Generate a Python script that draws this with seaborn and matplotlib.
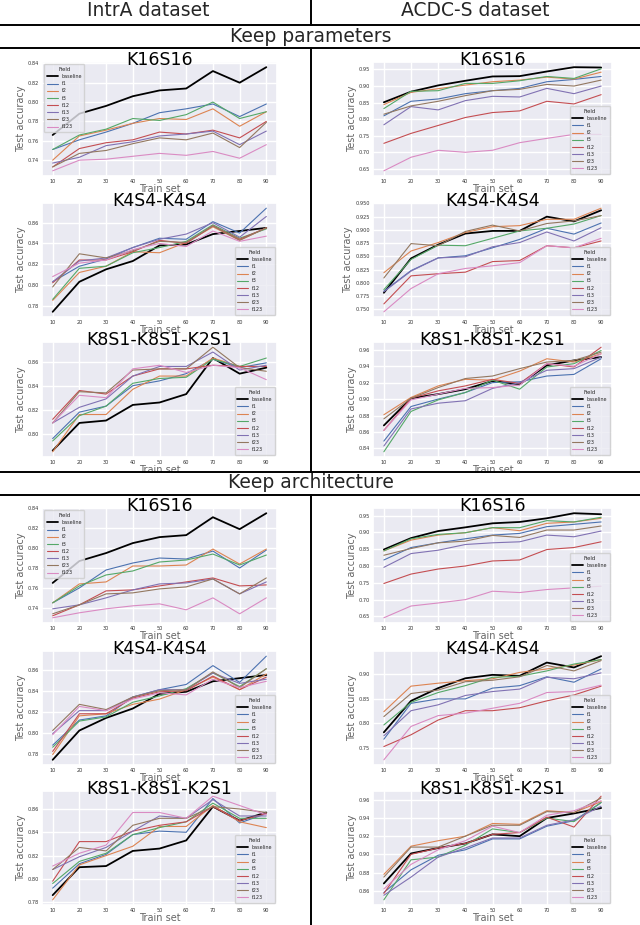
import numpy as np
import pandas as pd
import matplotlib
matplotlib.use("Agg")
import matplotlib.pyplot as plt
from matplotlib.lines import Line2D
import seaborn as sns

TRAIN_SET = [10, 20, 30, 40, 50, 60, 70, 80, 90]
FIELDS = ["baseline", "f1", "f2", "f3", "f12", "f13", "f23", "f123"]
DATASETS = ["IntrA dataset", "ACDC-S dataset"]
SECTIONS = ["Keep parameters", "Keep architecture"]
MODELS = ["K16S16", "K4S4-K4S4", "K8S1-K8S1-K2S1"]

# rows follow FIELDS order
INTRA_PARAM_K16S16 = [
    [0.766, 0.788, 0.796, 0.806, 0.812, 0.814, 0.832, 0.820, 0.836],
    [0.751, 0.761, 0.769, 0.778, 0.789, 0.793, 0.798, 0.785, 0.798],
    [0.740, 0.765, 0.771, 0.778, 0.783, 0.782, 0.793, 0.775, 0.790],
    [0.751, 0.766, 0.772, 0.783, 0.781, 0.787, 0.800, 0.783, 0.790],
    [0.733, 0.752, 0.758, 0.761, 0.769, 0.767, 0.771, 0.763, 0.780],
    [0.737, 0.743, 0.755, 0.759, 0.765, 0.767, 0.770, 0.756, 0.770],
    [0.733, 0.747, 0.750, 0.757, 0.763, 0.761, 0.768, 0.753, 0.779],
    [0.729, 0.740, 0.741, 0.744, 0.747, 0.745, 0.749, 0.742, 0.756],
]
INTRA_PARAM_K4S4 = [
    [0.774, 0.803, 0.815, 0.823, 0.838, 0.839, 0.849, 0.852, 0.855],
    [0.803, 0.818, 0.825, 0.836, 0.845, 0.844, 0.861, 0.850, 0.874],
    [0.785, 0.812, 0.818, 0.832, 0.831, 0.841, 0.856, 0.843, 0.855],
    [0.786, 0.816, 0.818, 0.831, 0.836, 0.842, 0.858, 0.845, 0.854],
    [0.802, 0.824, 0.824, 0.832, 0.843, 0.840, 0.857, 0.844, 0.855],
    [0.803, 0.823, 0.826, 0.836, 0.844, 0.849, 0.860, 0.846, 0.866],
    [0.798, 0.830, 0.826, 0.833, 0.842, 0.841, 0.857, 0.843, 0.855],
    [0.808, 0.821, 0.824, 0.834, 0.840, 0.837, 0.852, 0.842, 0.847],
]
INTRA_PARAM_K8S1 = [
    [0.786, 0.809, 0.811, 0.824, 0.826, 0.833, 0.863, 0.850, 0.855],
    [0.796, 0.818, 0.823, 0.840, 0.844, 0.850, 0.862, 0.855, 0.859],
    [0.785, 0.816, 0.816, 0.837, 0.848, 0.848, 0.863, 0.856, 0.856],
    [0.794, 0.815, 0.823, 0.842, 0.846, 0.847, 0.862, 0.856, 0.863],
    [0.812, 0.836, 0.833, 0.848, 0.854, 0.854, 0.857, 0.856, 0.856],
    [0.809, 0.822, 0.829, 0.848, 0.856, 0.856, 0.868, 0.853, 0.857],
    [0.809, 0.835, 0.834, 0.853, 0.854, 0.854, 0.872, 0.855, 0.852],
    [0.809, 0.832, 0.830, 0.854, 0.857, 0.851, 0.857, 0.855, 0.845],
]
ACDC_PARAM_K16S16 = [
    [0.851, 0.883, 0.902, 0.916, 0.929, 0.930, 0.944, 0.957, 0.956],
    [0.810, 0.854, 0.861, 0.877, 0.886, 0.893, 0.913, 0.920, 0.929],
    [0.844, 0.881, 0.892, 0.903, 0.913, 0.918, 0.927, 0.921, 0.942],
    [0.832, 0.884, 0.886, 0.908, 0.908, 0.916, 0.929, 0.923, 0.952],
    [0.727, 0.757, 0.781, 0.805, 0.820, 0.825, 0.854, 0.846, 0.874],
    [0.783, 0.838, 0.828, 0.856, 0.869, 0.867, 0.893, 0.877, 0.900],
    [0.815, 0.840, 0.854, 0.871, 0.886, 0.890, 0.905, 0.900, 0.918],
    [0.644, 0.685, 0.706, 0.700, 0.706, 0.729, 0.742, 0.754, 0.754],
]
ACDC_PARAM_K4S4 = [
    [0.781, 0.846, 0.872, 0.893, 0.898, 0.898, 0.925, 0.916, 0.937],
    [0.784, 0.823, 0.847, 0.851, 0.866, 0.882, 0.903, 0.892, 0.913],
    [0.819, 0.860, 0.876, 0.895, 0.906, 0.908, 0.920, 0.920, 0.941],
    [0.787, 0.844, 0.871, 0.870, 0.884, 0.898, 0.903, 0.911, 0.927],
    [0.760, 0.813, 0.817, 0.820, 0.840, 0.842, 0.870, 0.866, 0.879],
    [0.783, 0.822, 0.847, 0.849, 0.868, 0.876, 0.896, 0.879, 0.904],
    [0.809, 0.874, 0.870, 0.897, 0.909, 0.898, 0.912, 0.917, 0.927],
    [0.745, 0.789, 0.817, 0.827, 0.832, 0.838, 0.870, 0.866, 0.884],
]
ACDC_PARAM_K8S1 = [
    [0.868, 0.901, 0.906, 0.912, 0.922, 0.918, 0.941, 0.947, 0.951],
    [0.849, 0.891, 0.900, 0.908, 0.920, 0.921, 0.928, 0.930, 0.949],
    [0.881, 0.902, 0.916, 0.924, 0.923, 0.934, 0.949, 0.945, 0.955],
    [0.836, 0.885, 0.899, 0.908, 0.923, 0.912, 0.939, 0.943, 0.959],
    [0.862, 0.901, 0.910, 0.916, 0.924, 0.919, 0.943, 0.939, 0.963],
    [0.843, 0.888, 0.895, 0.898, 0.913, 0.920, 0.935, 0.937, 0.951],
    [0.876, 0.901, 0.914, 0.925, 0.928, 0.937, 0.945, 0.947, 0.957],
    [0.862, 0.899, 0.906, 0.913, 0.914, 0.917, 0.943, 0.940, 0.955],
]
INTRA_ARCH_K16S16 = [
    [0.765, 0.787, 0.795, 0.805, 0.811, 0.813, 0.831, 0.819, 0.835],
    [0.745, 0.760, 0.778, 0.785, 0.790, 0.789, 0.797, 0.780, 0.798],
    [0.745, 0.764, 0.766, 0.782, 0.782, 0.783, 0.799, 0.784, 0.799],
    [0.745, 0.762, 0.773, 0.777, 0.786, 0.788, 0.794, 0.783, 0.793],
    [0.732, 0.743, 0.757, 0.758, 0.762, 0.766, 0.770, 0.762, 0.763],
    [0.739, 0.743, 0.750, 0.758, 0.764, 0.765, 0.769, 0.754, 0.766],
    [0.734, 0.743, 0.754, 0.755, 0.759, 0.761, 0.769, 0.754, 0.770],
    [0.730, 0.735, 0.739, 0.742, 0.744, 0.738, 0.750, 0.734, 0.750],
]
ACDC_ARCH_K16S16 = [
    [0.849, 0.883, 0.904, 0.915, 0.927, 0.931, 0.942, 0.957, 0.954],
    [0.818, 0.855, 0.869, 0.881, 0.892, 0.897, 0.917, 0.924, 0.931],
    [0.845, 0.877, 0.892, 0.899, 0.914, 0.905, 0.927, 0.931, 0.942],
    [0.845, 0.881, 0.894, 0.899, 0.914, 0.914, 0.935, 0.931, 0.945],
    [0.748, 0.776, 0.791, 0.800, 0.815, 0.818, 0.849, 0.855, 0.872],
    [0.796, 0.837, 0.847, 0.864, 0.869, 0.872, 0.892, 0.887, 0.904],
    [0.832, 0.852, 0.869, 0.874, 0.891, 0.885, 0.907, 0.907, 0.919],
    [0.646, 0.681, 0.690, 0.700, 0.725, 0.721, 0.730, 0.735, 0.740],
]
INTRA_ARCH_K4S4 = [
    [0.774, 0.802, 0.814, 0.823, 0.837, 0.839, 0.849, 0.852, 0.855],
    [0.788, 0.812, 0.816, 0.834, 0.841, 0.846, 0.864, 0.848, 0.873],
    [0.779, 0.816, 0.818, 0.827, 0.832, 0.841, 0.853, 0.841, 0.856],
    [0.786, 0.811, 0.815, 0.829, 0.835, 0.842, 0.857, 0.844, 0.861],
    [0.782, 0.818, 0.818, 0.833, 0.839, 0.840, 0.854, 0.841, 0.853],
    [0.799, 0.821, 0.821, 0.834, 0.841, 0.841, 0.857, 0.847, 0.851],
    [0.802, 0.827, 0.822, 0.834, 0.840, 0.841, 0.858, 0.843, 0.861],
    [0.798, 0.825, 0.821, 0.832, 0.838, 0.836, 0.851, 0.843, 0.849],
]
ACDC_ARCH_K4S4 = [
    [0.782, 0.846, 0.872, 0.892, 0.899, 0.897, 0.924, 0.914, 0.937],
    [0.768, 0.841, 0.850, 0.850, 0.872, 0.877, 0.895, 0.884, 0.911],
    [0.824, 0.876, 0.882, 0.887, 0.891, 0.904, 0.911, 0.919, 0.930],
    [0.797, 0.843, 0.863, 0.877, 0.894, 0.896, 0.907, 0.921, 0.930],
    [0.753, 0.777, 0.807, 0.826, 0.826, 0.832, 0.846, 0.858, 0.876],
    [0.775, 0.826, 0.838, 0.857, 0.865, 0.870, 0.894, 0.891, 0.903],
    [0.814, 0.861, 0.868, 0.885, 0.888, 0.895, 0.918, 0.907, 0.928],
    [0.726, 0.794, 0.816, 0.821, 0.831, 0.841, 0.863, 0.865, 0.878],
]
INTRA_ARCH_K8S1 = [
    [0.786, 0.810, 0.811, 0.824, 0.826, 0.833, 0.862, 0.850, 0.857],
    [0.792, 0.813, 0.821, 0.838, 0.841, 0.840, 0.869, 0.848, 0.856],
    [0.782, 0.812, 0.820, 0.828, 0.845, 0.845, 0.863, 0.849, 0.844],
    [0.796, 0.815, 0.822, 0.838, 0.844, 0.849, 0.865, 0.852, 0.852],
    [0.798, 0.832, 0.832, 0.841, 0.846, 0.849, 0.862, 0.850, 0.856],
    [0.808, 0.819, 0.827, 0.841, 0.854, 0.852, 0.868, 0.854, 0.854],
    [0.808, 0.827, 0.824, 0.846, 0.852, 0.852, 0.862, 0.860, 0.857],
    [0.811, 0.822, 0.829, 0.857, 0.857, 0.852, 0.871, 0.863, 0.855],
]
ACDC_ARCH_K8S1 = [
    [0.868, 0.901, 0.907, 0.912, 0.922, 0.920, 0.940, 0.945, 0.951],
    [0.858, 0.883, 0.899, 0.905, 0.917, 0.917, 0.931, 0.937, 0.957],
    [0.878, 0.909, 0.915, 0.920, 0.934, 0.933, 0.948, 0.946, 0.958],
    [0.850, 0.894, 0.897, 0.910, 0.928, 0.924, 0.940, 0.936, 0.957],
    [0.857, 0.900, 0.907, 0.912, 0.922, 0.924, 0.941, 0.930, 0.964],
    [0.855, 0.875, 0.897, 0.907, 0.918, 0.918, 0.932, 0.938, 0.953],
    [0.875, 0.908, 0.908, 0.920, 0.932, 0.932, 0.947, 0.946, 0.962],
    [0.862, 0.889, 0.905, 0.915, 0.931, 0.924, 0.943, 0.948, 0.959],
]

# [section][model][dataset]
PANELS = [
    [[INTRA_PARAM_K16S16, ACDC_PARAM_K16S16],
     [INTRA_PARAM_K4S4, ACDC_PARAM_K4S4],
     [INTRA_PARAM_K8S1, ACDC_PARAM_K8S1]],
    [[INTRA_ARCH_K16S16, ACDC_ARCH_K16S16],
     [INTRA_ARCH_K4S4, ACDC_ARCH_K4S4],
     [INTRA_ARCH_K8S1, ACDC_ARCH_K8S1]],
]
LEGEND_LOC = [
    [["upper left", "lower right"], ["lower right", "lower right"], ["lower right", "lower right"]],
    [["upper left", "lower right"], ["lower right", "lower right"], ["lower right", "lower right"]],
]

sns.set_theme(style="darkgrid")
plt.rcParams["font.family"] = ["DejaVu Sans"]

W, H = 640, 925
fig = plt.figure(figsize=(W / 100, H / 100), dpi=100)


def rect(x0, y0, x1, y1):
    return [x0 / W, 1 - y1 / H, (x1 - x0) / W, (y1 - y0) / H]


COL_X = [(42, 277), (373, 612)]
ROW_Y = [[(62, 176), (203, 317), (342, 457)],
         [(508, 623), (651, 765), (791, 905)]]

colors = ["black"] + sns.color_palette("deep", 7)
PAL = dict(zip(FIELDS, colors))
SIZES = {f: (1.3 if f == "baseline" else 0.8) for f in FIELDS}

for s in range(2):
    for m in range(3):
        for d in range(2):
            vals = np.array(PANELS[s][m][d])
            df = pd.DataFrame({
                "Train set": np.tile(TRAIN_SET, len(FIELDS)),
                "Test accuracy": vals.ravel(),
                "Field": np.repeat(FIELDS, len(TRAIN_SET)),
            })
            x0, x1 = COL_X[d]
            y0, y1 = ROW_Y[s][m]
            ax = fig.add_axes(rect(x0, y0, x1, y1))
            sns.lineplot(data=df, x="Train set", y="Test accuracy", hue="Field",
                         size="Field", hue_order=FIELDS, size_order=FIELDS,
                         palette=PAL, sizes=SIZES, ax=ax)
            ax.set_xticks(TRAIN_SET)
            ax.tick_params(labelsize=3.6, pad=2, length=0, colors="0.2")
            ax.set_xlabel("Train set", fontsize=7, color="0.4", labelpad=0)
            ax.set_ylabel("Test accuracy", fontsize=7, color="0.4", labelpad=1.5)
            ax.set_title(MODELS[m], fontsize=12.5, pad=-2.5, color="black")
            sns.move_legend(ax, LEGEND_LOC[s][m][d], title="Field", fontsize=3.5,
                            title_fontsize=3.8, labelspacing=0.45, borderpad=0.5,
                            handlelength=2.2, frameon=True)

# header texts
fig.text(148 / W, 1 - 11 / H, DATASETS[0], ha="center", va="center", fontsize=13.5)
fig.text(475 / W, 1 - 11 / H, DATASETS[1], ha="center", va="center", fontsize=13.5)
fig.text(311 / W, 1 - 37 / H, SECTIONS[0], ha="center", va="center", fontsize=13.5)
fig.text(311 / W, 1 - 483 / H, SECTIONS[1], ha="center", va="center", fontsize=13.5)

# table lines
for yy in [25, 48, 472, 495]:
    fig.add_artist(Line2D([0, 1], [1 - yy / H, 1 - yy / H], color="black",
                          lw=1.4, transform=fig.transFigure))
for ya, yb in [(0, 25), (48, 472), (495, 925)]:
    fig.add_artist(Line2D([311 / W, 311 / W], [1 - ya / H, 1 - yb / H],
                          color="black", lw=1.4, transform=fig.transFigure))

fig.savefig("out.png", dpi=100)
